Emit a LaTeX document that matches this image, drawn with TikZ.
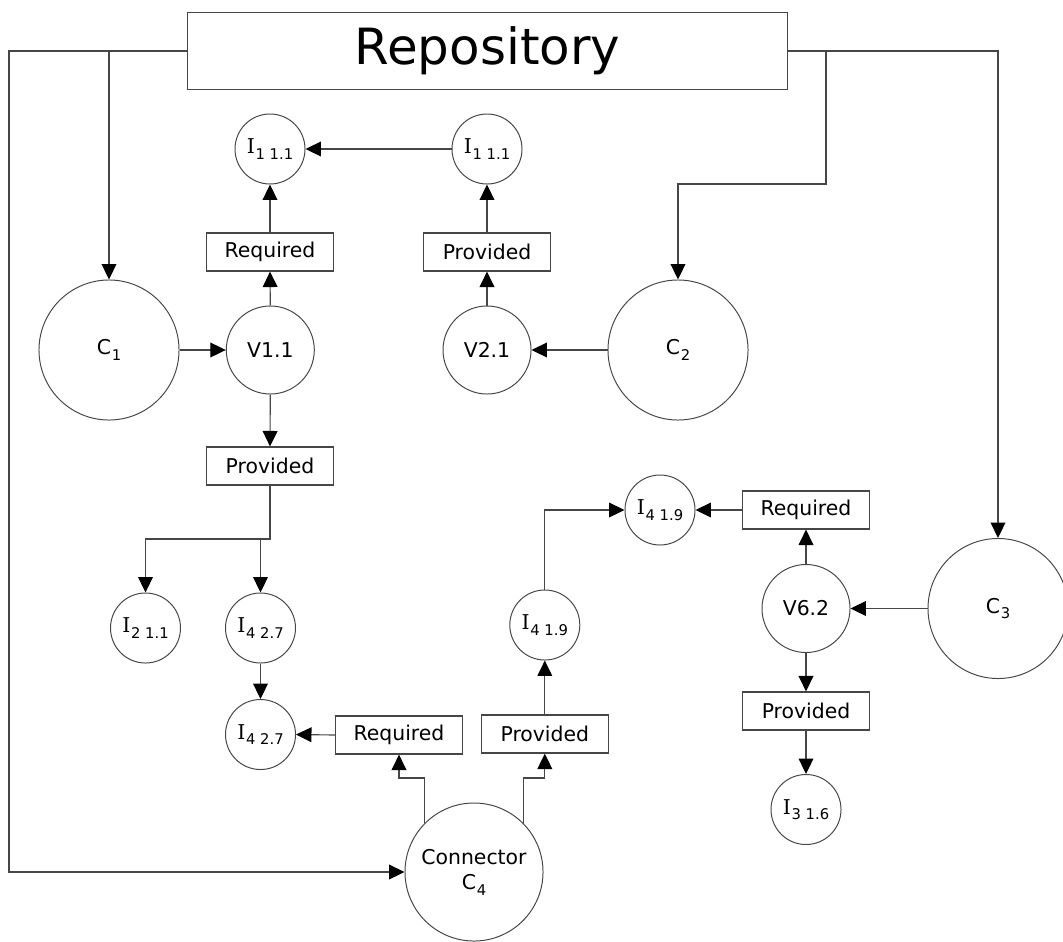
\documentclass[tikz,border=0pt]{standalone}
\usepackage{fontspec}
\setmainfont{DejaVu Sans}
\newfontfamily\slabfont{DejaVu Serif}
\usetikzlibrary{arrows.meta}
\definecolor{linecol}{RGB}{70,70,70}
\newcommand{\lsub}[1]{\kern0.5pt\raisebox{-0.5ex}{\fontsize{10.5}{11}\selectfont #1}}
\newcommand{\Iface}{{\slabfont I}}
\begin{document}
\begin{tikzpicture}[x=0.025cm, y=-0.025cm,
  every node/.style={font=\fontsize{14.5}{18}\selectfont, text=black},
  conn/.style={draw=linecol, line width=0.8pt},
  arr/.style={conn, arrows={-{Triangle[length=11pt,width=10.5pt,fill=black,color=black]}}},
  bigc/.style={circle, draw=linecol, line width=0.7pt, minimum size=3.5cm, inner sep=0pt},
  midc/.style={circle, draw=linecol, line width=0.7pt, minimum size=2.2cm, inner sep=0pt},
  smallc/.style={circle, draw=linecol, line width=0.7pt, minimum size=1.75cm, inner sep=0pt},
  portbox/.style={rectangle, draw=linecol, line width=0.8pt, minimum width=3.175cm, minimum height=0.95cm, inner sep=0pt}
]
\useasboundingbox (0,0) rectangle (1063,941);

% Repository
\node[rectangle, draw=linecol, line width=0.8pt, minimum width=14.975cm, minimum height=1.91cm, inner sep=0pt,
      font=\fontsize{35.5}{40}\selectfont] (repo) at (487.5,51) {Repository};

% Components and versions
\node[bigc] (C1) at (109,350) {C\lsub{1}};
\node[midc] (V11) at (270.3,350) {V1.1};
\node[midc] (V21) at (487,350) {V2.1};
\node[bigc] (C2) at (678,350) {C\lsub{2}};

\node[smallc] (I11a) at (270,149) {\Iface\lsub{1 1.1}};
\node[smallc] (I11b) at (487,149) {\Iface\lsub{1 1.1}};
\node[portbox] (ReqA) at (270,252) {Required};
\node[portbox] (ProvA) at (487,252) {Provided};

\node[portbox] (ProvB) at (270,466) {Provided};
\node[smallc] (I21) at (145.5,628) {\Iface\lsub{2 1.1}};
\node[smallc] (I27a) at (260.5,628) {\Iface\lsub{4 2.7}};
\node[smallc] (I27b) at (260.5,734.5) {\Iface\lsub{4 2.7}};
\node[portbox] (ReqC) at (399,735) {Required};
\node[portbox] (ProvC) at (544.8,734) {Provided};
\node[circle, draw=linecol, line width=0.7pt, minimum size=3.45cm, inner sep=0pt, align=center] (C4) at (474,872) {Connector\\C\lsub{4}};

\node[smallc] (I19b) at (544.8,625) {\Iface\lsub{4 1.9}};
\node[smallc] (I19a) at (660,510) {\Iface\lsub{4 1.9}};
\node[portbox] (ReqR) at (806,510) {Required};
\node[midc] (V62) at (806,608.5) {V6.2};
\node[bigc] (C3) at (998,608.5) {C\lsub{3}};
\node[portbox] (ProvR) at (806,711) {Provided};
\node[smallc] (I16) at (806,809.5) {\Iface\lsub{3 1.6}};

\coordinate (jR) at (826,51);
\coordinate (split) at (270,539);
\coordinate (c4lvl) at (474,778);

% Repository connectors
\draw[arr] (repo.west) -- (9,51) |- (C4.west);
\draw[arr] (C1.north |- repo.west) -- (C1.north);
\draw[arr] (repo.east) -- (C3.north |- repo.east) -- (C3.north);
\draw[arr] (jR) -- ++(0,133) -| (C2.north);

% Top left/right
\draw[arr] (C1.east) -- (V11.west);
\draw[arr] (V11.north) -- (ReqA.south);
\draw[arr] (ReqA.north) -- (I11a.south);
\draw[arr] (I11b.west) -- (I11a.east);
\draw[arr] (C2.west) -- (V21.east);
\draw[arr] (V21.north) -- (ProvA.south);
\draw[arr] (ProvA.north) -- (I11b.south);

% V1.1 provided
\draw[arr] (V11.south) -- (ProvB.north);
\draw[arr] (ProvB.south) -- (split) -| (I21.north);
\draw[arr] (I27a.north |- split) -- (I27a.north);
\draw[arr] (I27a.south) -- (I27b.north);
\draw[arr] (ReqC.west) -- (I27b.east);

% Connector C4
\draw[arr] (C4.135) -- (C4.135 |- c4lvl) -| (ReqC.south);
\draw[arr] (C4.45) -- (C4.45 |- c4lvl) -| (ProvC.south);
\draw[arr] (ProvC.north) -- (I19b.south);
\draw[arr] (I19b.north) |- (I19a.west);

% C3 side
\draw[arr] (C3.west) -- (V62.east);
\draw[arr] (V62.north) -- (ReqR.south);
\draw[arr] (ReqR.west) -- (I19a.east);
\draw[arr] (V62.south) -- (ProvR.north);
\draw[arr] (ProvR.south) -- (I16.north);
\end{tikzpicture}
\end{document}
